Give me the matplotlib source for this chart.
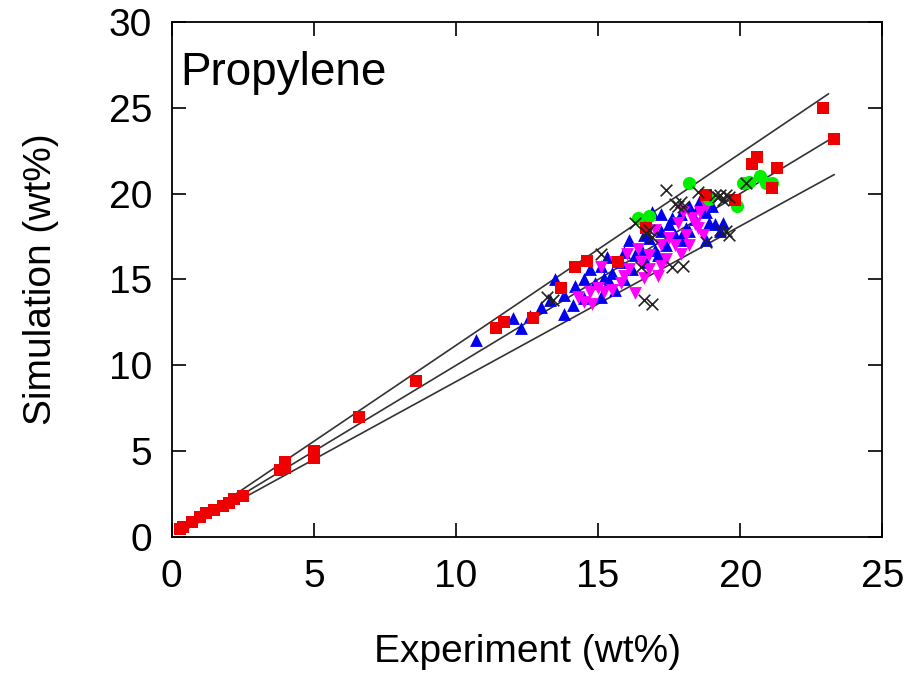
import numpy as np
import matplotlib
matplotlib.use('Agg')
import matplotlib.pyplot as plt

# red squares
sq_x = [0.3, 0.4, 0.7, 1.0, 1.2, 1.5, 1.8, 2.0, 2.2, 2.5, 3.8, 4.0, 4.0, 5.0, 5.0, 6.6, 8.6,
        11.4, 11.7, 12.7, 13.7, 14.2, 14.6, 15.7, 16.7, 18.8, 19.8, 20.4, 20.6, 21.1, 21.3,
        22.9, 23.3]
sq_y = [0.5, 0.6, 0.9, 1.2, 1.4, 1.6, 1.8, 2.0, 2.2, 2.4, 3.9, 4.4, 4.0, 5.0, 4.6, 7.0, 9.1,
        12.2, 12.5, 12.75, 14.5, 15.7, 16.1, 16.0, 18.0, 19.9, 19.6, 21.7, 22.1, 20.3, 21.5,
        25.0, 23.2]

# green circles
ci_x = [16.4, 16.8, 18.2, 18.9, 19.9, 20.1, 20.3, 20.7, 20.9, 21.1]
ci_y = [18.6, 18.7, 20.6, 19.7, 19.3, 20.6, 20.7, 21.0, 20.6, 20.6]

# blue triangles
tu_x = [10.7, 12.0, 12.3, 12.6, 13.0, 13.3, 13.8, 13.8, 14.2, 14.5, 14.7, 15.1, 15.2, 15.5,
        15.8, 15.9, 16.3, 16.5, 16.7, 16.8, 17.0, 17.2, 17.4, 17.5, 17.7, 17.9, 18.1, 18.2,
        18.4, 18.6, 18.8, 18.9, 19.1, 19.3, 18.2, 18.8, 15.6, 15.1, 14.5, 13.5, 16.1, 16.7,
        17.2, 15.3, 15.9, 16.2, 16.6, 17.1, 17.6, 18.0, 18.5, 19.0, 19.4, 17.9, 16.9, 14.9,
        14.1, 15.4]
tu_y = [11.5, 12.75, 12.2, 12.9, 13.4, 13.8, 13.0, 14.1, 14.6, 15.0, 15.6, 15.8, 15.1, 15.4,
        16.0, 15.0, 16.4, 16.8, 16.0, 17.4, 16.7, 17.8, 17.0, 18.2, 17.6, 18.8, 18.0, 19.3,
        18.5, 19.6, 18.9, 18.3, 18.2, 17.8, 17.8, 17.3, 14.4, 14.0, 13.9, 15.0, 17.3, 18.3,
        18.8, 16.3, 16.6, 15.6, 17.6, 16.4, 18.6, 17.3, 19.2, 19.3, 18.3, 17.5, 18.9, 14.8,
        13.5, 14.9]

# magenta down triangles
td_x = [14.5, 14.7, 15.0, 15.2, 15.5, 15.8, 16.3, 16.1, 16.5, 16.8, 17.2, 17.5, 17.7, 18.1,
        18.4, 18.6, 18.8, 17.2, 16.8, 15.6, 15.1, 17.9, 18.2, 16.0, 16.4, 17.0, 17.4, 17.8,
        18.3, 18.7, 15.9, 16.6, 14.8, 14.3, 17.1, 18.0, 18.5]
td_y = [13.7, 14.3, 14.5, 14.3, 14.4, 14.8, 14.2, 15.6, 16.0, 16.4, 17.0, 17.4, 17.0, 17.6,
        18.2, 18.9, 19.3, 15.8, 15.6, 16.0, 15.7, 16.5, 17.0, 16.5, 16.8, 17.9, 16.2, 18.3,
        18.6, 17.6, 15.2, 15.1, 13.6, 14.0, 15.2, 18.9, 18.0]

# black crosses
cr_x = [13.2, 13.4, 15.1, 16.6, 16.9, 17.6, 18.0, 16.5, 17.4, 17.7, 16.3, 16.8, 19.2, 19.3,
        19.1, 20.2, 18.8, 16.7, 16.9, 19.5, 18.5, 19.3, 19.4, 19.6, 19.5, 19.6, 17.8, 17.9,
        18.0]
cr_y = [14.0, 13.8, 16.5, 13.8, 13.6, 15.7, 15.8, 15.7, 20.2, 19.4, 18.3, 17.9, 19.8, 17.9,
        19.9, 20.6, 17.2, 17.7, 17.5, 19.9, 20.1, 19.9, 19.6, 19.8, 17.8, 17.6, 19.3, 19.5,
        19.2]

plt.rcParams['font.family'] = ['Liberation Sans', 'DejaVu Sans']

fig = plt.figure(figsize=(9.23, 6.8), dpi=100)
ax = fig.add_axes([0.186, 0.21, 0.77, 0.758])

# parity lines (+/-10%)
lx = np.array([0.4, 23.3])
ax.plot(lx, lx, color='#333333', lw=1.2, zorder=1)
ax.plot([0.4, 23.1], [0.44, 25.8], color='#333333', lw=1.2, zorder=1)
ax.plot([0.4, 23.3], [0.36, 21.1], color='#333333', lw=1.2, zorder=1)

ax.scatter(tu_x, tu_y, marker='^', s=85, color='#0000ee', linewidths=0, zorder=2)
ax.scatter(td_x, td_y, marker='v', s=85, color='#ff00ff', linewidths=0, zorder=2)
ax.scatter(ci_x, ci_y, marker='o', s=90, color='#00ee00', linewidths=0, zorder=2)
ax.scatter(sq_x, sq_y, marker='s', s=70, color='#ee0000', linewidths=0, zorder=3)
ax.scatter(cr_x, cr_y, marker='x', s=70, color='#222222', linewidths=1.2, zorder=4)

ax.set_xlim(0, 25)
ax.set_ylim(0, 30)
ax.set_xticks(range(0, 26, 5))
ax.set_yticks(range(0, 31, 5))
ax.tick_params(direction='in', length=10, width=1.2, labelsize=28, pad=16,
               top=True, right=True)
ax.tick_params(axis='y', pad=14)
for s in ax.spines.values():
    s.set_linewidth(1.3)

ax.set_xlabel('Experiment (wt%)', fontsize=28, labelpad=28)
ax.set_ylabel('Simulation (wt%)', fontsize=28, labelpad=36)
ax.text(0.3, 26.3, 'Propylene', fontsize=33)

fig.savefig('out.png', dpi=100)
